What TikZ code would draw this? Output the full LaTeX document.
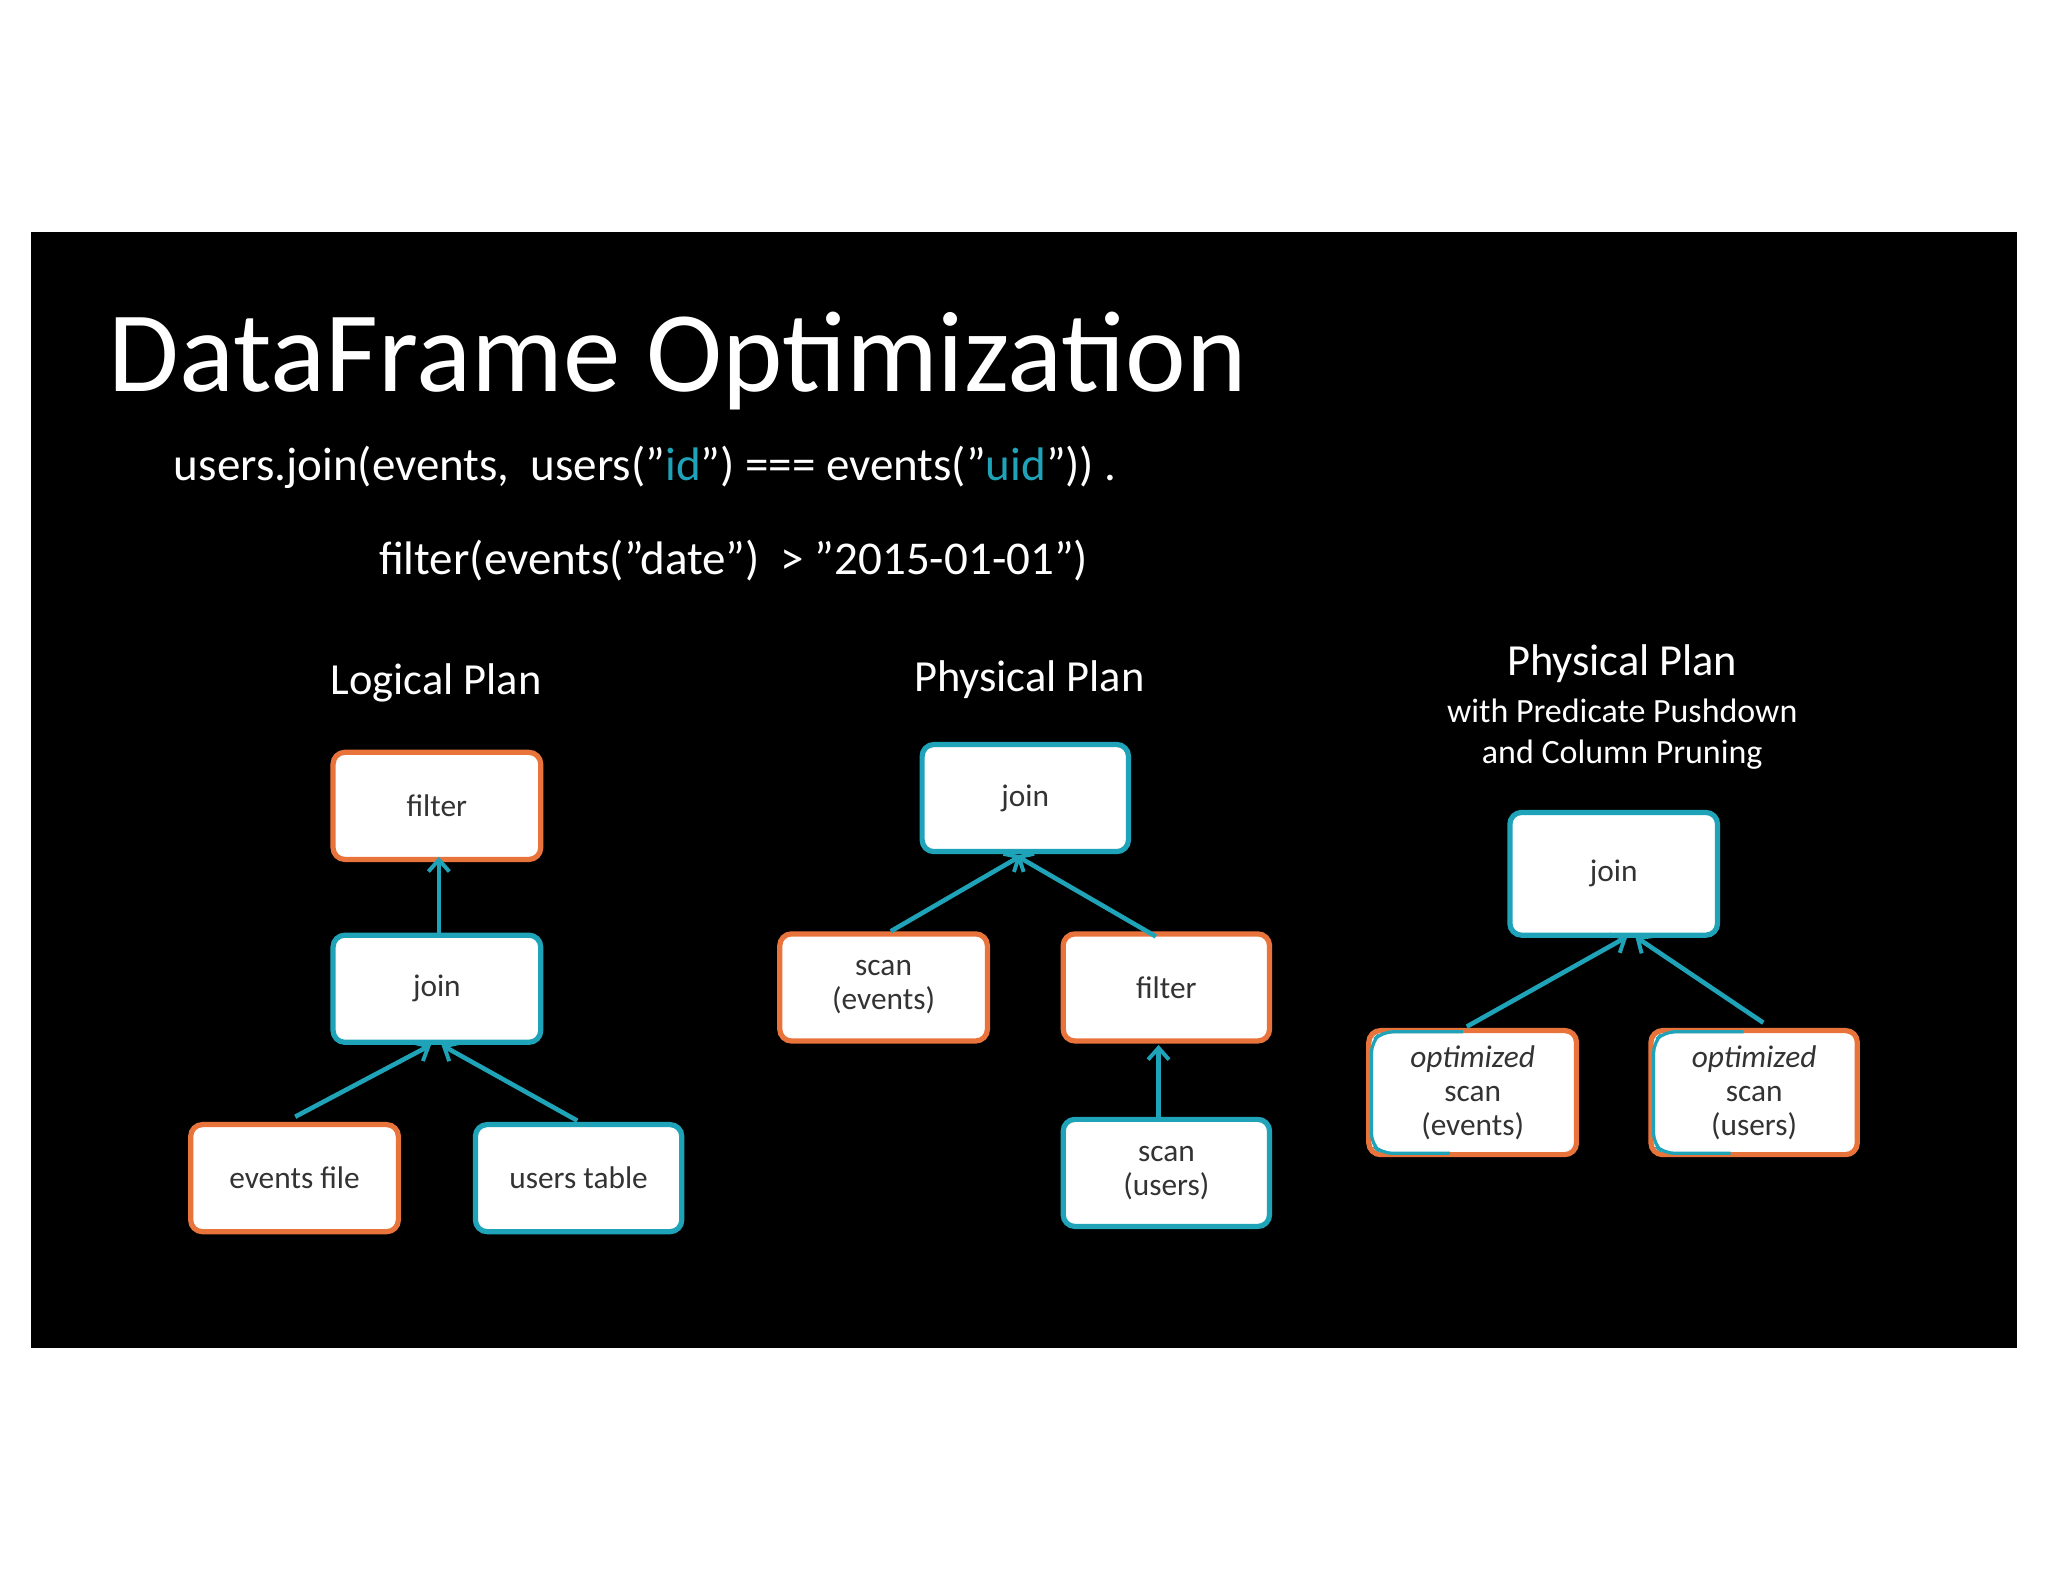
\documentclass[tikz,border=0pt]{standalone}
\usepackage{fontspec}
\setmainfont{Carlito}
\usetikzlibrary{arrows.meta}
\definecolor{tealc}{HTML}{1FA3B8}
\definecolor{orangec}{HTML}{E8743B}
\definecolor{txt}{HTML}{333333}
\begin{document}
\begin{tikzpicture}[x=1pt,y=-1pt,
  box/.style={draw,line width=4pt,rounded corners=9pt,fill=white,inner sep=0pt,
    font=\fontsize{24}{26}\selectfont,text=txt,align=center},
  obox/.style={box,draw=orangec},
  tbox/.style={box,draw=tealc},
  conn/.style={draw=tealc,line width=3.5pt,-{Straight Barb[length=9pt,width=16pt,line width=3pt]}},
  lab/.style={text=white,font=\fontsize{34}{38}\selectfont}]
\useasboundingbox (0,0) rectangle (1568,1211);
\fill[white] (0,0) rectangle (1568,1211);
\fill[black] (24,178) rectangle (1544,1032);
\node[anchor=base west,text=white,font=\fontsize{88}{90}\selectfont,inner sep=0] (title) at (83,300) {DataFrame Optimization};
\node[anchor=base west,text=white,font=\fontsize{36}{40}\selectfont,inner sep=0] (c1) at (133,368) {users.join(events,\ \ users("\textcolor{tealc}{id}") === events("\textcolor{tealc}{uid}")) .};
\node[anchor=base west,text=white,font=\fontsize{36}{40}\selectfont,inner sep=0] (c2) at (290,440) {filter(events("date")\ \ > "2015-01-01")};
% logical
\node[lab] (l1) at (334,523) {Logical Plan};
\node[obox,minimum width=159pt,minimum height=82pt] (lf) at (334.5,617) {filter};
\node[tbox,minimum width=159pt,minimum height=82pt] (lj) at (334.5,757) {join};
\node[obox,minimum width=159pt,minimum height=82pt] (le) at (225.5,902) {events file};
\node[tbox,minimum width=158pt,minimum height=82pt] (lu) at (443,902) {users table};
\coordinate (ljb1) at (330,800); \coordinate (ljb2) at (338,800);
\draw[conn] (226,855) -- (ljb1);
\draw[conn] (442,858) -- (ljb2);
\draw[conn] (336,715) -- (336,656);
% physical
\node[lab] (p1) at (788,520) {Physical Plan};
\node[tbox,minimum width=158pt,minimum height=82pt] (pj) at (785,611) {join};
\node[obox,minimum width=159pt,minimum height=82pt] (pse) at (676.5,756) {scan\\(events)};
\node[obox,minimum width=158pt,minimum height=82pt] (pf) at (893,756) {filter};
\node[tbox,minimum width=158pt,minimum height=82pt] (psu) at (893,898) {scan\\(users)};
\draw[conn] (682,713) -- (782,655);
\draw[conn] (885,717) -- (778,655);
\draw[conn] (887,856) -- (887,800);
% third
\node[lab] (q1) at (1242,508) {Physical Plan};
\node[text=white,font=\fontsize{26}{30}\selectfont] (q2) at (1242,544) {with Predicate Pushdown};
\node[text=white,font=\fontsize{26}{30}\selectfont] (q3) at (1242,578) {and Column Pruning};
\node[tbox,minimum width=159pt,minimum height=94pt] (qj) at (1235.5,669) {join};
\node[box,draw=orangec,minimum width=159pt,minimum height=95pt] (qe) at (1127.5,836.5) {\textit{optimized}\\scan\\(events)};
\draw[tealc,line width=2.5pt,rounded corners=8pt] (1120,790) -- (1058,790) -- (1050,798) -- (1050,876) -- (1058,883) -- (1110,883);
\node[box,draw=orangec,minimum width=158pt,minimum height=95pt] (qu) at (1343,836.5) {\textit{optimized}\\scan\\(users)};
\draw[tealc,line width=2.5pt,rounded corners=8pt] (1335,790) -- (1274,790) -- (1266,798) -- (1266,876) -- (1274,883) -- (1325,883);
\draw[conn] (1123,786) -- (1246,717);
\draw[conn] (1350,783) -- (1252,717);
\end{tikzpicture}
\end{document}
